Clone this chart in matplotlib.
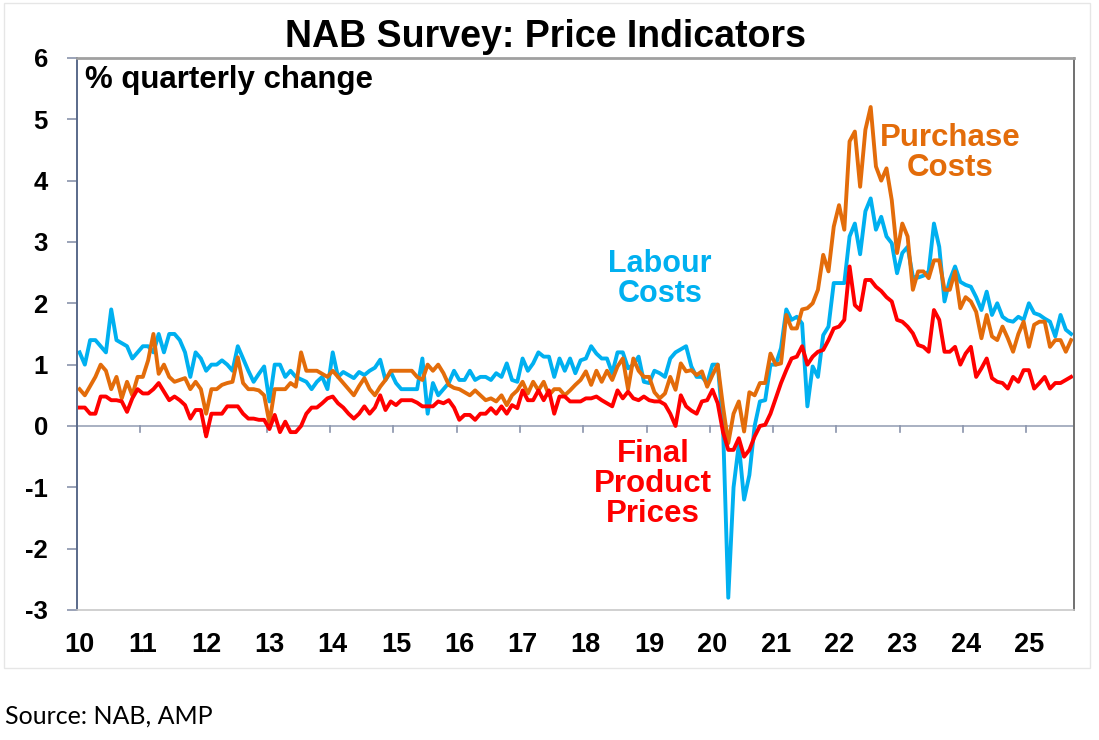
import numpy as np
import matplotlib
matplotlib.use("Agg")
import matplotlib.pyplot as plt
from matplotlib.patches import Rectangle

# monthly readings, Jan 2010 - Sep 2025 (% quarterly change)
labour = [
    1.2, 1.0, 1.4, 1.4, 1.3, 1.2, 1.9, 1.4, 1.35, 1.3, 1.1, 1.2,      # 2010
    1.3, 1.3, 1.2, 1.5, 1.2, 1.5, 1.5, 1.4, 1.2, 0.8, 1.2, 1.1,       # 2011
    0.9, 1.0, 1.0, 1.07, 1.0, 0.9, 1.3, 1.1, 0.9, 0.72, 0.85, 0.97,   # 2012
    0.4, 1.0, 1.0, 0.8, 0.9, 0.8, 0.76, 0.72, 0.6, 0.72, 0.8, 0.6,    # 2013
    1.2, 0.8, 0.88, 0.83, 0.78, 0.88, 0.83, 0.9, 0.95, 1.08, 0.75, 0.88,  # 2014
    0.7, 0.6, 0.6, 0.6, 0.6, 1.1, 0.2, 0.7, 0.5, 0.6, 0.7, 0.9,       # 2015
    0.75, 0.75, 0.9, 0.75, 0.8, 0.8, 0.75, 0.86, 0.8, 1.02, 0.75, 0.72,  # 2016
    1.1, 0.9, 1.02, 1.2, 1.13, 1.13, 0.8, 1.1, 0.9, 1.1, 0.86, 1.07,  # 2017
    1.1, 1.3, 1.18, 1.1, 1.1, 0.86, 1.2, 1.2, 0.94, 1.0, 1.13, 0.72,  # 2018
    0.7, 0.9, 0.86, 0.8, 1.1, 1.2, 1.25, 1.3, 0.97, 0.8, 0.8, 0.7,    # 2019
    1.0, 1.0, 0.0, -2.8, -1.0, -0.3, -1.2, -0.8, 0.0, 0.4, 0.42, 1.0,  # 2020
    1.0, 1.27, 1.9, 1.73, 1.78, 1.67, 0.32, 0.97, 0.8, 1.48, 1.62, 2.33,  # 2021
    2.33, 2.33, 3.09, 3.3, 2.8, 3.5, 3.71, 3.2, 3.41, 3.09, 2.98, 2.49,   # 2022
    2.82, 2.92, 2.43, 2.42, 2.45, 2.52, 3.3, 2.92, 2.03, 2.38, 2.6, 2.35,  # 2023
    2.3, 2.27, 2.1, 1.89, 2.19, 1.81, 2.0, 1.78, 1.72, 1.7, 1.78, 1.73,   # 2024
    2.0, 1.84, 1.81, 1.75, 1.7, 1.46, 1.81, 1.57, 1.5,                 # 2025
]
purchase = [
    0.6, 0.5, 0.65, 0.8, 1.0, 0.9, 0.6, 0.8, 0.45, 0.72, 0.5, 0.8,
    0.8, 1.07, 1.5, 0.85, 1.0, 0.8, 0.72, 0.75, 0.78, 0.6, 0.72, 0.6,
    0.2, 0.6, 0.6, 0.67, 0.7, 0.72, 1.12, 0.7, 0.6, 0.6, 0.58, 0.5,
    0.05, 0.6, 0.6, 0.6, 0.7, 0.64, 1.2, 0.9, 0.9, 0.9, 0.85, 0.8,
    0.9, 0.8, 0.7, 0.6, 0.5, 0.65, 0.78, 0.6, 0.5, 0.64, 0.75, 0.9,
    0.9, 0.9, 0.9, 0.9, 0.8, 0.75, 1.0, 0.9, 1.0, 0.86, 0.67, 0.62,
    0.6, 0.55, 0.5, 0.58, 0.5, 0.42, 0.45, 0.4, 0.5, 0.34, 0.5, 0.58,
    0.72, 0.53, 0.72, 0.58, 0.72, 0.5, 0.6, 0.6, 0.5, 0.58, 0.67, 0.75,
    0.89, 0.67, 0.9, 0.72, 0.9, 0.75, 0.97, 1.1, 0.6, 1.1, 0.9, 0.8,
    0.8, 0.55, 0.45, 0.53, 0.8, 0.59, 1.02, 0.89, 0.91, 0.83, 0.89, 0.64,
    0.83, 1.0, 0.32, -0.28, 0.2, 0.4, -0.09, 0.55, 0.5, 0.7, 0.7, 1.18,
    1.0, 1.02, 1.81, 1.59, 1.59, 1.9, 1.92, 2.0, 2.22, 2.79, 2.52, 3.25,
    3.6, 3.2, 4.64, 4.8, 3.9, 4.83, 5.2, 4.23, 4.0, 4.2, 3.68, 2.82,
    3.3, 3.09, 2.22, 2.52, 2.52, 2.41, 2.7, 2.7, 2.22, 2.22, 2.52, 1.92,
    2.1, 2.03, 1.86, 1.43, 1.81, 1.46, 1.4, 1.62, 1.43, 1.21, 1.5, 1.7,
    1.29, 1.65, 1.7, 1.7, 1.29, 1.4, 1.4, 1.21, 1.4,
]
final_prices = [
    0.3, 0.3, 0.2, 0.2, 0.48, 0.48, 0.42, 0.42, 0.4, 0.23, 0.45, 0.6,
    0.53, 0.53, 0.6, 0.7, 0.56, 0.42, 0.48, 0.42, 0.34, 0.12, 0.26, 0.26,
    -0.17, 0.2, 0.2, 0.2, 0.32, 0.32, 0.32, 0.2, 0.12, 0.12, 0.1, 0.1,
    -0.05, 0.18, -0.1, 0.07, -0.1, -0.1, 0.0, 0.2, 0.3, 0.3, 0.37, 0.45,
    0.48, 0.37, 0.3, 0.2, 0.12, 0.2, 0.32, 0.2, 0.3, 0.5, 0.26, 0.4,
    0.34, 0.42, 0.42, 0.42, 0.38, 0.32, 0.32, 0.32, 0.4, 0.37, 0.42, 0.3,
    0.1, 0.18, 0.18, 0.1, 0.2, 0.2, 0.29, 0.2, 0.32, 0.2, 0.34, 0.29,
    0.58, 0.42, 0.42, 0.58, 0.42, 0.58, 0.2, 0.48, 0.48, 0.4, 0.4, 0.4,
    0.45, 0.45, 0.48, 0.42, 0.37, 0.32, 0.58, 0.45, 0.56, 0.45, 0.42, 0.48,
    0.42, 0.4, 0.4, 0.35, 0.2, 0.0, 0.5, 0.32, 0.25, 0.2, 0.4, 0.42,
    0.59, 0.37, -0.1, -0.39, -0.39, -0.2, -0.5, -0.39, -0.17, 0.0, 0.02, 0.2,
    0.45, 0.7, 0.91, 1.1, 1.13, 1.3, 1.0, 1.13, 1.21, 1.24, 1.4, 1.59,
    1.62, 1.73, 2.6, 1.97, 1.89, 2.38, 2.38, 2.27, 2.2, 2.1, 2.03, 1.73,
    1.7, 1.62, 1.51, 1.32, 1.29, 1.21, 1.89, 1.73, 1.21, 1.21, 1.29, 1.0,
    1.18, 1.29, 0.8, 0.94, 1.1, 0.78, 0.72, 0.7, 0.61, 0.8, 0.72, 0.91,
    0.91, 0.61, 0.7, 0.8, 0.61, 0.7, 0.7, 0.75, 0.8,
]
year_labels = [str(y) for y in range(10, 26)]
y_ticks = list(range(-3, 7))

BLUE = "#00B0F0"
ORANGE = "#E36C0A"
RED = "#FF0000"
AXIS = "#5A6A8A"

plt.rcParams['font.family'] = ['Liberation Sans', 'DejaVu Sans']

fig = plt.figure(figsize=(10.99, 7.40), dpi=100)
ax = fig.add_axes([0.070, 0.1757, 0.907, 0.7460])

months = np.arange(len(labour))
ax.plot(months, labour, color=BLUE, lw=2.8, solid_joinstyle='round')
ax.plot(months, purchase, color=ORANGE, lw=2.8, solid_joinstyle='round')
ax.plot(months, final_prices, color=RED, lw=2.8, solid_joinstyle='round')

ax.set_xlim(-0.5, len(labour) - 0.5)
ax.set_ylim(-3, 6)

# zero line carries the year ticks
ax.axhline(0, color="#9AA3B8", lw=1.2, zorder=1)
year_edges = np.arange(0, len(labour), 12) - 0.5
for xe in year_edges[1:]:
    ax.plot([xe, xe], [0, -0.1], color="#8A94AC", lw=1.2, zorder=1)

ax.set_xticks(np.arange(0, 12 * len(year_labels), 12))
ax.set_xticklabels(year_labels, fontsize=19.5, fontweight='bold')
ax.tick_params(axis='x', length=0, pad=16)

ax.set_yticks(y_ticks)
ax.set_yticklabels([str(v) for v in y_ticks], fontsize=18.5, fontweight='bold')
ax.tick_params(axis='y', length=7, width=1.2, color="#8A94AC", pad=14)

ax.spines['left'].set_color(AXIS)
ax.spines['left'].set_linewidth(1.4)
ax.spines['bottom'].set_color("#C8C8C8")
ax.spines['bottom'].set_linewidth(1.2)
ax.spines['top'].set_color("#A0A0A0")
ax.spines['top'].set_linewidth(2.0)
ax.spines['right'].set_color("#707070")
ax.spines['right'].set_linewidth(1.4)

ax.text(0.008, 0.96, "% quarterly change", transform=ax.transAxes,
        fontsize=22.5, fontweight='bold', ha='left', va='center')

ax.text(110, 2.4, "Labour\nCosts", color=BLUE, fontsize=22, fontweight='bold',
        ha='center', va='center', linespacing=1.0)
ax.text(165, 4.45, "Purchase\nCosts", color=ORANGE, fontsize=22.5, fontweight='bold',
        ha='center', va='center', linespacing=1.0)
ax.text(108.7, -0.95, "Final\nProduct\nPrices", color=RED, fontsize=22.5,
        fontweight='bold', ha='center', va='center', linespacing=1.0)

fig.text(0.496, 0.950, "NAB Survey: Price Indicators", fontsize=27,
         fontweight='bold', ha='center', va='center')
fig.text(0.005, 0.032, "Source: NAB, AMP", fontsize=18, ha='left', va='center',
         family=['Lato', 'DejaVu Sans'])

# faint chart-area border
fig.patches.append(Rectangle((0.004, 0.097), 0.988, 0.899, transform=fig.transFigure,
                             fill=False, edgecolor="#E6E6E6", lw=1.0))

fig.savefig("out.png", dpi=100)
